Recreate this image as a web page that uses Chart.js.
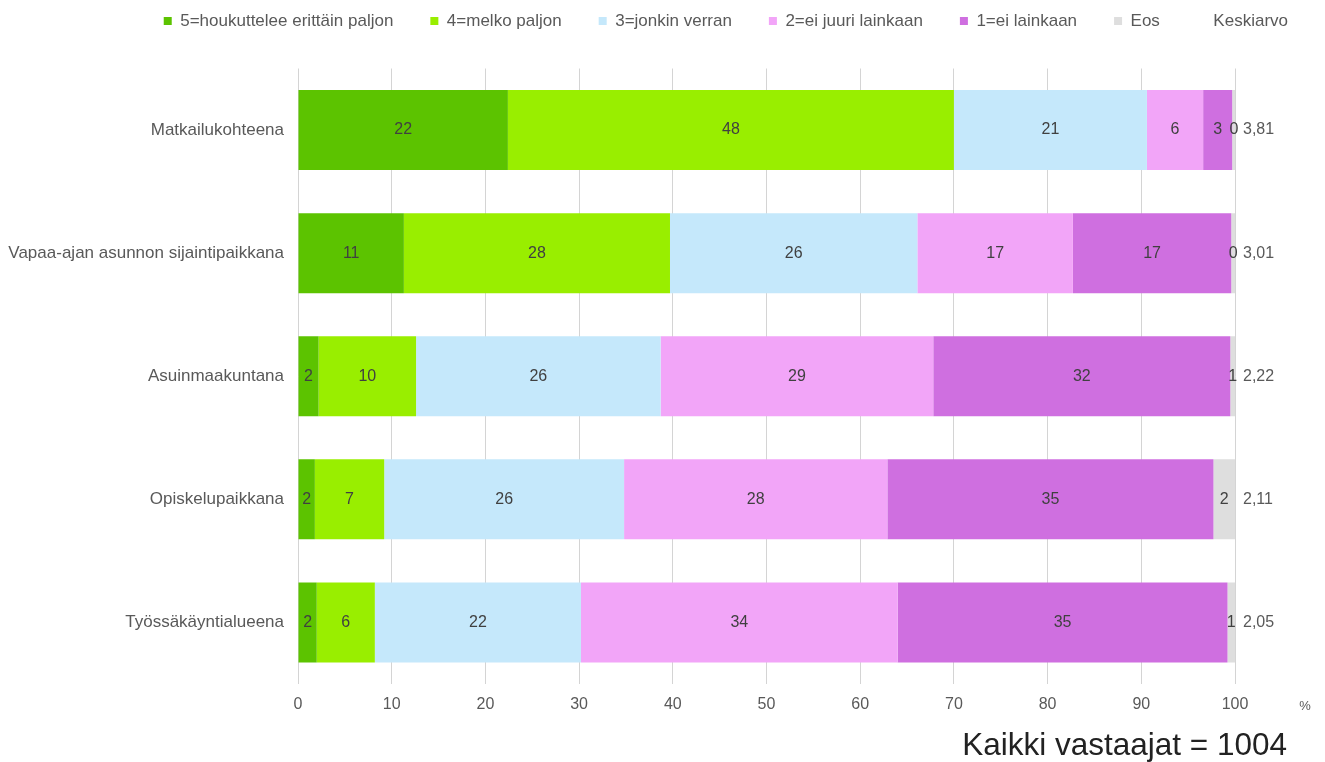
<!DOCTYPE html>
<html>
<head>
<meta charset="utf-8">
<script src="https://cdn.jsdelivr.net/npm/chart.js@4.4.1/dist/chart.umd.min.js"></script>
<style>
  html, body { margin: 0; padding: 0; background: #fff; }
  #wrap { width: 1325px; height: 762px; position: relative; }
</style>
</head>
<body>
<div id="wrap"><canvas id="chart"></canvas></div>
<script>
const categories = ['Matkailukohteena', 'Vapaa-ajan asunnon sijaintipaikkana', 'Asuinmaakuntana', 'Opiskelupaikkana', 'Työssäkäyntialueena'];
const seriesNames = ['5=houkuttelee erittäin paljon', '4=melko paljon', '3=jonkin verran', '2=ei juuri lainkaan', '1=ei lainkaan', 'Eos'];
const seriesColors = ['#5cc300', '#99ee00', '#c5e8fb', '#f2a5f8', '#cf6fe0', '#dedede'];

// shares per category (%), one array per answer option
const val5 = [22.4, 11.3, 2.2, 1.8, 2.0];
const val4 = [47.6, 28.4, 10.4, 7.4, 6.2];
const val3 = [20.6, 26.4, 26.1, 25.6, 22.0];
const val2 = [6.0, 16.6, 29.1, 28.1, 33.8];
const val1 = [3.1, 16.9, 31.7, 34.8, 35.2];
const valEos = [0.4, 0.4, 0.5, 2.3, 0.8];
const meanLabels = ['3,81', '3,01', '2,22', '2,11', '2,05'];
const xTicks = [0, 10, 20, 30, 40, 50, 60, 70, 80, 90, 100];

const FONT = '"Liberation Sans", Arial, sans-serif';
Chart.defaults.font.family = FONT;
Chart.defaults.font.size = 16;
Chart.defaults.color = '#595959';

const allValues = [val5, val4, val3, val2, val1, valEos];
const datasets = allValues.map((v, i) => ({
  label: seriesNames[i],
  data: v,
  backgroundColor: seriesColors[i],
  borderWidth: 0,
  barPercentage: 0.65,
  categoryPercentage: 1
}));
// legend-only entry for the mean column
datasets.push({
  label: 'Keskiarvo',
  data: categories.map(() => 0),
  backgroundColor: 'rgba(0,0,0,0)',
  borderWidth: 0,
  isMean: true
});

// fixed legend height so the plot starts where the original does
const legendHeight = {
  id: 'legendHeight',
  beforeInit(chart) {
    const fit = chart.legend.fit;
    chart.legend.fit = function () {
      fit.bind(chart.legend)();
      this.height = 93;
    };
  }
};

const barLabels = {
  id: 'barLabels',
  afterDatasetsDraw(chart) {
    const ctx = chart.ctx;
    ctx.save();
    ctx.font = '16px ' + FONT;
    ctx.fillStyle = '#404040';
    ctx.textAlign = 'center';
    ctx.textBaseline = 'middle';
    chart.data.datasets.forEach((ds, di) => {
      if (ds.isMean) return;
      chart.getDatasetMeta(di).data.forEach((bar, i) => {
        ctx.fillText(String(Math.round(ds.data[i])), (bar.x + bar.base) / 2, bar.y);
      });
    });
    // footer texts
    ctx.fillStyle = '#595959';
    ctx.font = '13px ' + FONT;
    ctx.fillText('%', 1305, 706);
    ctx.fillStyle = '#222';
    ctx.font = '31.5px ' + FONT;
    ctx.textAlign = 'right';
    ctx.fillText('Kaikki vastaajat = 1004', 1287, 746);
    ctx.restore();
  }
};

new Chart(document.getElementById('chart'), {
  type: 'bar',
  data: { labels: categories, datasets: datasets },
  options: {
    indexAxis: 'y',
    responsive: true,
    maintainAspectRatio: false,
    animation: false,
    layout: { padding: { top: -24.5, left: 0, right: 0, bottom: 0 } },
    plugins: {
      legend: {
        position: 'top',
        align: 'end',
        labels: {
          boxWidth: 8,
          boxHeight: 8,
          padding: 37,
          color: '#595959',
          font: { size: 17 }
        }
      },
      tooltip: { enabled: false }
    },
    scales: {
      x: {
        stacked: true,
        min: 0,
        max: 100,
        afterBuildTicks: s => { s.ticks = xTicks.map(v => ({ value: v })); },
        ticks: { padding: 11, color: '#595959', font: { size: 16 } },
        grid: { color: '#d4d4d4', drawTicks: false },
        border: { display: false },
        afterFit: s => { s.height = 78; }
      },
      y: {
        stacked: true,
        ticks: { padding: 14, color: '#595959', font: { size: 17 } },
        grid: { display: false, drawTicks: false },
        border: { display: false },
        afterFit: s => { s.width = 298; }
      },
      y2: {
        type: 'category',
        labels: meanLabels,
        position: 'right',
        offset: true,
        ticks: { padding: 8, color: '#595959', font: { size: 16 } },
        grid: { display: false, drawTicks: false },
        border: { display: false },
        afterFit: s => { s.width = 90; }
      }
    }
  },
  plugins: [legendHeight, barLabels]
});
</script>
</body>
</html>
